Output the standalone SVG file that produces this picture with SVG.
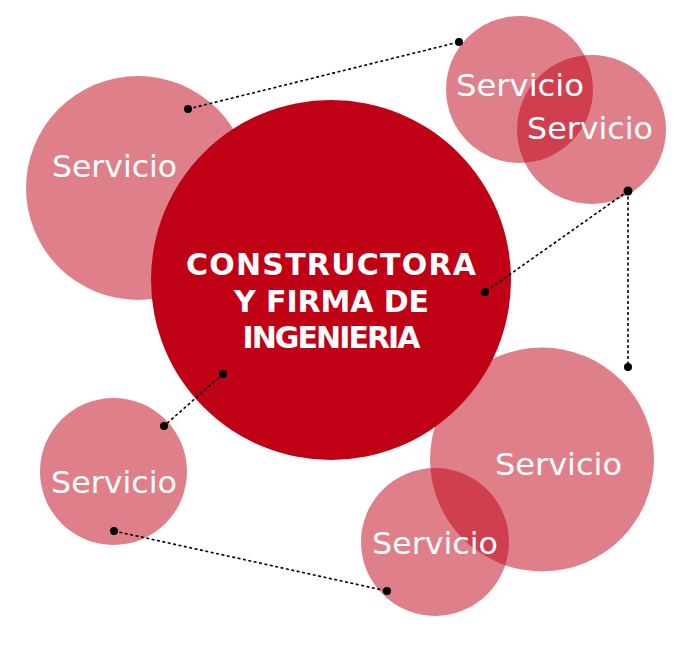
<svg xmlns="http://www.w3.org/2000/svg" width="690" height="652" viewBox="0 0 690 652">
<style>
.svc{fill:#c00015;fill-opacity:0.5}
.main{fill:#c00015}
.lbl{font-family:"DejaVu Sans","Liberation Sans",sans-serif;font-size:30px;fill:#ffffff;text-anchor:middle}
.ttl{font-family:"DejaVu Sans","Liberation Sans",sans-serif;font-weight:bold;font-size:30px;fill:#ffffff;text-anchor:middle}
.link{stroke:#000;stroke-width:1.6;stroke-dasharray:3 2.5;fill:none}
.dot{fill:#000}
</style>
<rect width="690" height="652" fill="#ffffff"/>
<g id="servicio-left"><circle class="svc" cx="138" cy="188" r="112"/></g>
<g id="servicio-top-a"><circle class="svc" cx="519.5" cy="89.5" r="73.5"/></g>
<g id="servicio-top-b"><circle class="svc" cx="591.5" cy="129.5" r="74.5"/></g>
<g id="servicio-bottom-left"><circle class="svc" cx="113.5" cy="471.5" r="73.5"/></g>
<g id="servicio-bottom-right-large"><circle class="svc" cx="542" cy="459.5" r="112"/></g>
<g id="servicio-bottom-right-small"><circle class="svc" cx="435" cy="542" r="74"/></g>
<g id="main-node">
<circle class="main" cx="331" cy="280" r="180"/>
<text class="ttl" x="331" y="275" textLength="290" lengthAdjust="spacing">CONSTRUCTORA</text>
<text class="ttl" x="331.5" y="312" textLength="195" lengthAdjust="spacing">Y FIRMA DE</text>
<text class="ttl" x="331.5" y="348" textLength="178" lengthAdjust="spacing">INGENIERIA</text>
</g>
<g id="labels">
<text class="lbl" x="114.5" y="177" textLength="125" lengthAdjust="spacingAndGlyphs">Servicio</text>
<text class="lbl" x="520" y="96" textLength="128" lengthAdjust="spacingAndGlyphs">Servicio</text>
<text class="lbl" x="590" y="139" textLength="126" lengthAdjust="spacingAndGlyphs">Servicio</text>
<text class="lbl" x="114" y="493" textLength="126" lengthAdjust="spacingAndGlyphs">Servicio</text>
<text class="lbl" x="558.5" y="475" textLength="127" lengthAdjust="spacingAndGlyphs">Servicio</text>
<text class="lbl" x="435" y="554" textLength="126" lengthAdjust="spacingAndGlyphs">Servicio</text>
</g>
<g id="connectors">
<line class="link" x1="188" y1="109" x2="459" y2="42"/>
<line class="link" x1="628" y1="191" x2="485" y2="292"/>
<line class="link" x1="628" y1="191" x2="628" y2="367"/>
<line class="link" x1="223" y1="374" x2="164" y2="426"/>
<line class="link" x1="114" y1="531" x2="387" y2="591"/>
<circle class="dot" cx="188" cy="109" r="4"/>
<circle class="dot" cx="459" cy="42" r="4"/>
<circle class="dot" cx="628" cy="191" r="4.5"/>
<circle class="dot" cx="485" cy="292" r="4"/>
<circle class="dot" cx="628" cy="367" r="4"/>
<circle class="dot" cx="223" cy="374" r="4"/>
<circle class="dot" cx="164" cy="426" r="4"/>
<circle class="dot" cx="114" cy="531" r="4"/>
<circle class="dot" cx="387" cy="591" r="4"/>
</g>
</svg>
